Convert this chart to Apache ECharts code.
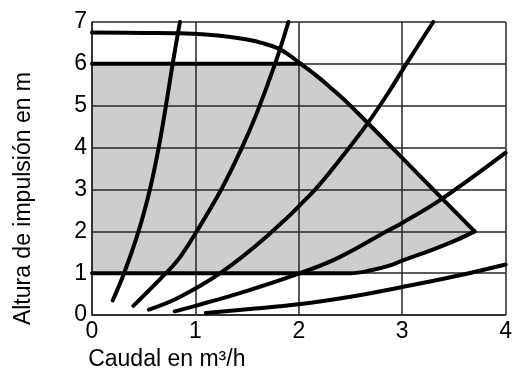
<!DOCTYPE html>
<html>
<head>
<meta charset="utf-8">
<script src="https://cdn.jsdelivr.net/npm/echarts@6/dist/echarts.min.js"></script>
<style>
html,body{margin:0;padding:0;background:#fff;}
#chart{width:515px;height:376px;}
</style>
</head>
<body>
<div id="chart"></div>
<script>
// Axis ticks
const xTicks = [0, 1, 2, 3, 4];
const yTicks = [0, 1, 2, 3, 4, 5, 6, 7];
const xName = 'Caudal en m³/h';
const yName = 'Altura de impulsión en m';

// Maximum pump curve (continues into the right boundary of the operating field)
const maxCurve = [[0,6.75],[0.5,6.74],[0.85,6.73],[1.1,6.7],[1.32,6.65],[1.5,6.58],[1.64,6.5],[1.8,6.37],[1.9,6.22],[2.02,6.0],[2.17,5.72],[2.3,5.45],[2.5,5.0],[3.3,3.0],[3.7,2.0]];
// Upper limit line (6 m)
const upperLine = [[0,6],[2.02,6]];
// Lower boundary of the operating field
const lowerLine = [[0,1],[2.3,1.0],[2.5,1.0],[2.7,1.07],[2.9,1.2],[3.0,1.3],[3.29,1.56],[3.54,1.81],[3.7,2.0]];

// System curves
const sys1 = [[0.2,0.35],[0.31,1],[0.45,2],[0.56,3],[0.645,4],[0.715,5],[0.78,6],[0.85,7]];
const sys2 = [[0.4,0.22],[0.715,1],[0.85,1.38],[1.0,1.95],[1.25,3],[1.45,4],[1.59,4.8],[1.77,6],[1.9,7]];
const sys3 = [[0.55,0.13],[0.84,0.42],[1.24,1.0],[1.7,1.9],[2.14,2.95],[2.44,3.85],[2.66,4.56],[2.85,5.25],[3.04,6.0],[3.3,7.0]];
const sys4 = [[0.8,0.09],[1.0,0.22],[1.5,0.58],[2.0,0.99],[2.375,1.36],[2.85,2.0],[3.0,2.2],[3.38,2.77],[4.0,3.88]];
const sys5 = [[1.1,0.05],[1.5,0.14],[2.0,0.26],[2.5,0.44],[3.0,0.67],[3.5,0.92],[4.0,1.21]];

// Operating field polygon built from the boundary arrays
const areaPoly = upperLine
  .concat(maxCurve.filter(p => p[0] > 2.02))
  .concat(lowerLine.slice().reverse().slice(1));

const FONT = "'Liberation Sans', Arial, Helvetica, sans-serif";
const GRID_COLOR = '#262626';

function lineSeries(data, opts) {
  return Object.assign({
    type: 'line',
    data: data,
    showSymbol: false,
    symbol: 'none',
    smooth: 0.4,
    z: 5,
    silent: true,
    lineStyle: { color: '#000', width: 4, cap: 'round', join: 'round' }
  }, opts || {});
}

const chart = echarts.init(document.getElementById('chart'), null, { renderer: 'canvas' });
chart.setOption({
  animation: false,
  backgroundColor: '#fff',
  grid: { left: 92, right: 6, top: 22, bottom: 58, show: false },
  xAxis: {
    type: 'value',
    min: xTicks[0], max: xTicks[xTicks.length - 1], interval: 1,
    z: 3,
    name: xName,
    nameLocation: 'middle',
    nameGap: 32,
    nameTextStyle: { fontFamily: FONT, fontSize: 23, color: '#000', padding: [0, 264, 0, 0] },
    axisLine: { show: true, lineStyle: { color: GRID_COLOR, width: 1.5 } },
    axisTick: { show: false },
    axisLabel: { fontFamily: FONT, fontSize: 23, color: '#000', margin: 5 },
    splitLine: { show: true, lineStyle: { color: GRID_COLOR, width: 1.5 } }
  },
  yAxis: {
    type: 'value',
    min: yTicks[0], max: yTicks[yTicks.length - 1], interval: 1,
    z: 3,
    name: yName,
    nameLocation: 'middle',
    nameRotate: 90,
    nameGap: 57,
    nameTextStyle: { fontFamily: FONT, fontSize: 23, color: '#000', padding: [0, 60, 0, 0] },
    axisLine: { show: true, lineStyle: { color: GRID_COLOR, width: 1.5 } },
    axisTick: { show: false },
    axisLabel: { fontFamily: FONT, fontSize: 23, color: '#000', margin: 5 },
    splitLine: { show: true, lineStyle: { color: GRID_COLOR, width: 1.5 } }
  },
  series: [
    {
      type: 'custom',
      coordinateSystem: 'cartesian2d',
      z: 1,
      silent: true,
      data: [[0, 1]],
      renderItem: function (params, api) {
        const pts = areaPoly.map(p => api.coord(p));
        return { type: 'polygon', shape: { points: pts, smooth: 0 }, style: { fill: '#cdcdcd', stroke: 'none' } };
      }
    },
    lineSeries(maxCurve, { lineStyle: { color: '#000', width: 4, cap: 'round', join: 'miter' } }),
    lineSeries(upperLine, { smooth: false }),
    lineSeries(lowerLine, { lineStyle: { color: '#000', width: 4, cap: 'round', join: 'miter' } }),
    lineSeries(sys1),
    lineSeries(sys2),
    lineSeries(sys3),
    lineSeries(sys4),
    lineSeries(sys5)
  ]
});
</script>
</body>
</html>
